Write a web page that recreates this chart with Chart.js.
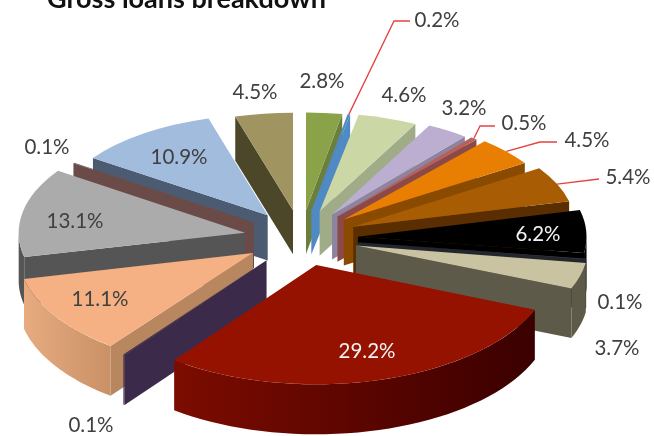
<!DOCTYPE html>
<html>
<head>
<meta charset="utf-8">
<style>
  html, body { margin: 0; padding: 0; background: #fff; }
  canvas { display: block; }
</style>
<script src="https://cdn.jsdelivr.net/npm/chart.js@4"></script>
</head>
<body>
<canvas id="pie" width="654" height="436"></canvas>
<script>
'use strict'

const chartTitle = 'Gross loans breakdown';

// share of gross loans, clockwise from twelve o'clock
const shares = [2.8, 0.2, 4.6, 3.2, 0.5, 4.5, 5.4, 6.2, 0.1, 3.7, 29.2, 0.1, 11.1, 13.1, 0.1, 10.9, 4.5];

const topColors = ['#8aa349', '#4f8ac4', '#ccd7a6', '#bbaed1', '#b8605c', '#e87f02', '#a85c04', '#000000', '#3e4450',
    '#c9c3a1', '#951100', '#3b2a4a', '#f5b184', '#ababab', '#6b4b48', '#a2bcdd', '#a09560'];
const wallColors = ['#6b7f3a', '#4f8ac4', '#a0ac88', '#8d84a0', '#8b4a47', '#8a4a00', '#5a2e00', '#000000', '#23262c',
    '#5e5a4a', '#7c0c00', '#3b2a4a', '#b8875f', '#555555', '#6b4b48', '#4b5c72', '#4d4729'];
// outer edge shading, left to right
const rimColors = {
    10: ['#7c0c00', '#5c0500', '#3a0000'],
    12: ['#e8ab80', '#c99166']
};

// where each value label sits, and whether it is on a dark face
const labelSpots = [[322, 81], [437, 20], [404, 95], [464, 108], [524, 123], [587, 140], [628, 177], [538, 234], [620, 302],
    [617, 348], [367, 351], [91, 425], [100, 299], [75, 221], [47, 147], [179, 157], [255, 92]];
const whiteLabels = [7, 10];

// elbows of the red leader lines, keyed by slice
const leaders = {
    1: [[394, 21], [410, 21]],
    4: [[480, 126], [495, 126]],
    5: [[540, 142], [557, 142]],
    6: [[599, 179]]
};

const centerX = 301;
const centerY = 238;
const explode = 57;
const squash = 0.49;

function sliceGeometry(arc) {
    const mid = (arc.startAngle + arc.endAngle) / 2;
    const ax = centerX + explode * Math.cos(mid);
    const ay = centerY + explode * squash * Math.sin(mid);
    // slices further back come out smaller and flatter
    const back = (264 - ay) / 55;
    const rx = 206 + 30 * (1 - back * back);
    const ry = rx * (0.47 + (ay - 209) * 0.00064);
    return { mid, ax, ay, rx, ry, depth: rx * 0.212 };
}

function rimPoint(g, angle) {
    return [g.ax + g.rx * Math.cos(angle), g.ay + g.ry * Math.sin(angle)];
}

function drawRadialWall(ctx, g, angle, color) {
    const p = rimPoint(g, angle);
    ctx.fillStyle = color;
    ctx.beginPath();
    ctx.moveTo(g.ax, g.ay);
    ctx.lineTo(p[0], p[1]);
    ctx.lineTo(p[0], p[1] + g.depth);
    ctx.lineTo(g.ax, g.ay + g.depth);
    ctx.closePath();
    ctx.fill();
}

function drawRim(ctx, g, from, to, index) {
    // only the part of the outer edge between 0 and 180 degrees faces the viewer
    let a = from, b = to;
    const turn = Math.PI * 2;
    while (a < -turn / 4) { a += turn; b += turn; }
    const start = Math.max(a, 0);
    const end = Math.min(b, Math.PI);
    if (end <= start) return;
    const left = rimPoint(g, end)[0];
    const right = rimPoint(g, start)[0];
    let fill = wallColors[index];
    const stops = rimColors[index];
    if (stops) {
        fill = ctx.createLinearGradient(left, 0, right, 0);
        stops.forEach((c, i) => fill.addColorStop(i / (stops.length - 1), c));
    }
    ctx.fillStyle = fill;
    ctx.beginPath();
    for (let i = 0; i <= 40; i++) {
        const p = rimPoint(g, start + (end - start) * i / 40);
        ctx[i ? 'lineTo' : 'moveTo'](p[0], p[1]);
    }
    for (let i = 40; i >= 0; i--) {
        const p = rimPoint(g, start + (end - start) * i / 40);
        ctx.lineTo(p[0], p[1] + g.depth);
    }
    ctx.closePath();
    ctx.fill();
}

const tiltedPie = {
    id: 'tiltedPie',
    beforeDatasetsDraw(chart) {
        const ctx = chart.ctx;
        const arcs = chart.getDatasetMeta(0).data;
        const order = arcs.map((arc, i) => ({ arc, i, g: sliceGeometry(arc) }))
            .sort((a, b) => a.g.ay - b.g.ay);

        order.forEach(({ arc, i, g }) => {
            drawRim(ctx, g, arc.startAngle, arc.endAngle, i);
            if (Math.cos(arc.startAngle) < 0) drawRadialWall(ctx, g, arc.startAngle, wallColors[i]);
            if (Math.cos(arc.endAngle) > 0) drawRadialWall(ctx, g, arc.endAngle, wallColors[i]);

            // top face: the library's own arc, flattened and moved out
            const sx = g.rx / arc.outerRadius;
            const sy = g.ry / arc.outerRadius;
            ctx.save();
            ctx.transform(sx, 0, 0, sy, g.ax - arc.x * sx, g.ay - arc.y * sy);
            arc.draw(ctx);
            ctx.restore();
        });

        // leader lines
        ctx.strokeStyle = '#e84040';
        ctx.lineWidth = 1.3;
        Object.keys(leaders).forEach(key => {
            const arc = arcs[key];
            const g = sliceGeometry(arc);
            const p = rimPoint(g, g.mid);
            ctx.beginPath();
            ctx.moveTo(p[0], p[1]);
            leaders[key].forEach(q => ctx.lineTo(q[0], q[1]));
            ctx.stroke();
        });

        // value labels
        ctx.font = '20.5px Lato';
        ctx.textAlign = 'center';
        ctx.textBaseline = 'middle';
        shares.forEach((v, i) => {
            ctx.fillStyle = whiteLabels.includes(i) ? '#f2f2f2' : '#404040';
            ctx.fillText(v.toFixed(1) + '%', labelSpots[i][0], labelSpots[i][1]);
        });

        // the heading runs off the top edge
        ctx.font = 'bold 27px Lato';
        ctx.textAlign = 'left';
        ctx.textBaseline = 'alphabetic';
        ctx.fillStyle = '#111111';
        ctx.fillText(chartTitle, 47, 8);

        return false;
    }
};

new Chart(document.getElementById('pie').getContext('2d'), {
    type: 'pie',
    data: {
        labels: shares.map(v => v.toFixed(1) + '%'),
        datasets: [{
            data: shares,
            backgroundColor: topColors,
            borderWidth: 0
        }]
    },
    options: {
        responsive: false,
        animation: false,
        plugins: {
            legend: { display: false },
            tooltip: { enabled: false }
        }
    },
    plugins: [tiltedPie]
});
</script>
</body>
</html>
